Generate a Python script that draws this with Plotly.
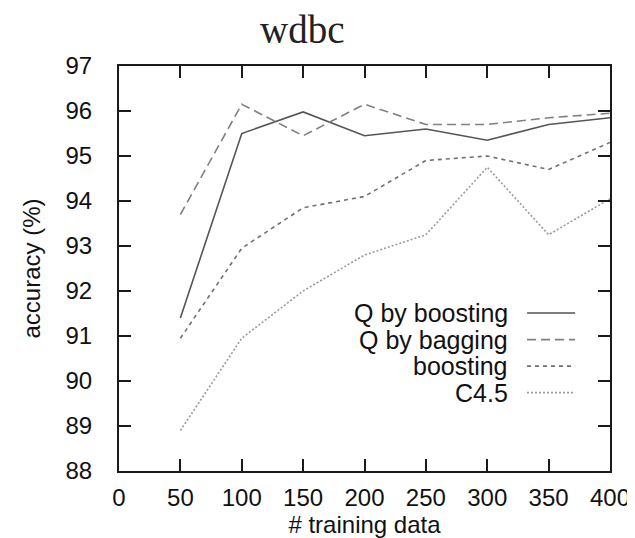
import plotly.graph_objects as go

x_vals = [50, 100, 150, 200, 250, 300, 350, 400]
q_boosting = [91.4, 95.5, 95.98, 95.45, 95.6, 95.35, 95.7, 95.85]
q_bagging = [93.7, 96.15, 95.45, 96.15, 95.7, 95.7, 95.85, 95.95]
boosting = [90.95, 92.95, 93.85, 94.1, 94.9, 95.0, 94.7, 95.3]
c45 = [88.9, 90.95, 92.0, 92.8, 93.25, 94.75, 93.25, 94.05]

series_names = ["Q by boosting", "Q by bagging", "boosting", "C4.5"]
series_values = [q_boosting, q_bagging, boosting, c45]
styles = [
    dict(color="#555555", dash="solid", width=1.6),
    dict(color="#808080", dash="9px,5px", width=1.6),
    dict(color="#707070", dash="4px,4px", width=1.6),
    dict(color="#9a9a9a", dash="2px,2px", width=1.6),
]

x_ticks = [0, 50, 100, 150, 200, 250, 300, 350, 400]
y_ticks = [88, 89, 90, 91, 92, 93, 94, 95, 96, 97]

FONT = "Liberation Sans, Arial, sans-serif"

fig = go.Figure()
for name, vals, st in zip(series_names, series_values, styles):
    fig.add_trace(go.Scatter(x=x_vals, y=vals, mode="lines", name=name,
                             line=st, showlegend=False))

# legend drawn manually (text right-aligned, sample line on the right)
leg_y0 = 0.390
leg_dy = 0.0655
for i, (name, st) in enumerate(zip(series_names, styles)):
    yy = leg_y0 - i * leg_dy
    fig.add_annotation(x=0.797, y=yy, xref="paper", yref="paper", text=name,
                       showarrow=False, xanchor="right", yanchor="middle",
                       font=dict(family=FONT, size=25, color="#111111"))
    fig.add_shape(type="line", xref="paper", yref="paper", x0=0.831, x1=0.929,
                  y0=yy, y1=yy, line=st)

# title
fig.add_annotation(x=0.3727, y=1.089, xref="paper", yref="paper",
                   text="wdbc", showarrow=False, xanchor="center", yanchor="middle",
                   font=dict(family="Liberation Serif, Times New Roman, serif",
                             size=39, color="#222222"))

axis_common = dict(showline=True, mirror="ticks", linecolor="#1a1a1a", linewidth=2,
                   ticks="inside", ticklen=12, tickwidth=2, tickcolor="#1a1a1a",
                   showgrid=False, zeroline=False, automargin=False,
                   tickfont=dict(family=FONT, size=24, color="#111111"))

# the page body has an 8px default margin, so the figure is sized to fit the window
fig.update_layout(
    width=627, height=530,
    margin=dict(l=111, r=25, t=58, b=67),
    paper_bgcolor="white", plot_bgcolor="white",
    xaxis=dict(range=[0, 400], tickvals=x_ticks, ticktext=[str(v) for v in x_ticks],
               title=dict(text="# training data", standoff=0,
                          font=dict(family=FONT, size=24, color="#111111")),
               ticklabelstandoff=4,
               **axis_common),
    yaxis=dict(range=[88, 97], tickvals=y_ticks, ticktext=[str(v) for v in y_ticks],
               title=dict(text="accuracy (%)", standoff=18,
                          font=dict(family=FONT, size=24, color="#111111")),
               ticklabelstandoff=20,
               **axis_common),
)

fig.write_html("out.html")
